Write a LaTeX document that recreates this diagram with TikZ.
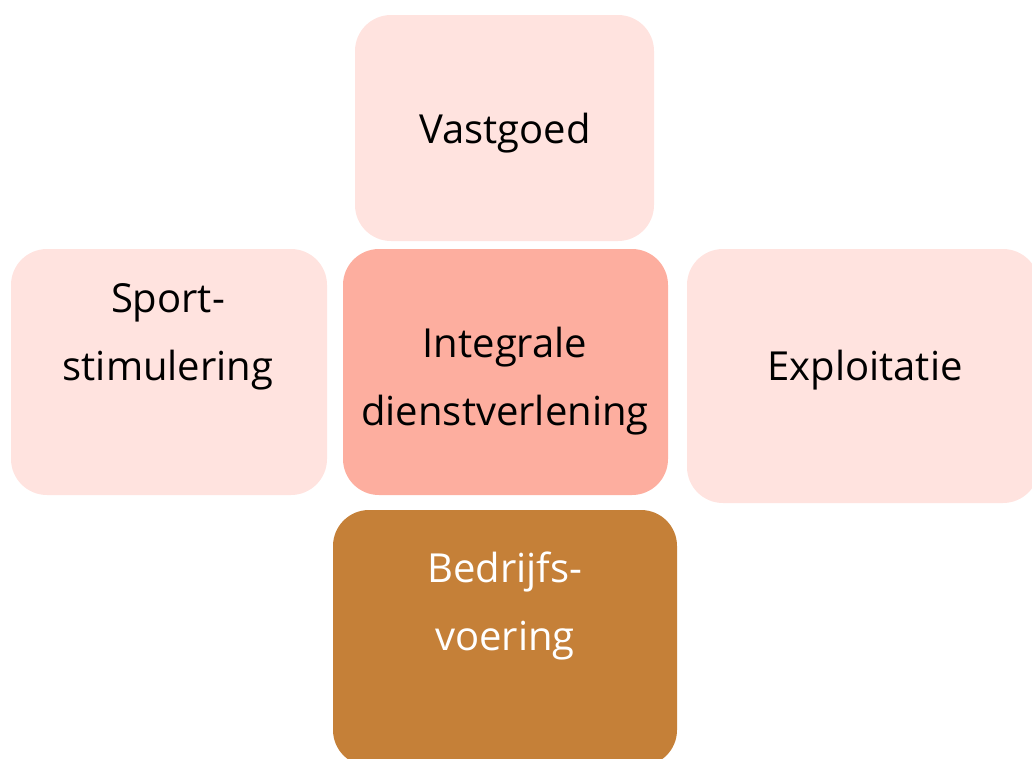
\documentclass[tikz,border=0pt]{standalone}
\usepackage{fontspec}
\setmainfont{Open Sans}
\definecolor{lightpink}{HTML}{FFE3DF}
\definecolor{salmon}{HTML}{FDAE9F}
\definecolor{brown}{HTML}{C58038}
\begin{document}
\begin{tikzpicture}[x=1pt,y=-1pt,
  box/.style={rounded corners=36pt, inner sep=0pt, draw=none},
  lbl/.style={font=\fontsize{40}{68}\selectfont, align=center, anchor=base, inner sep=0pt}]
\useasboundingbox (0,0) rectangle (1032,758);
\node[box, fill=lightpink, minimum width=299pt, minimum height=226pt] (vastgoed) at (504.5,128) {};
\node[box, fill=lightpink, minimum width=316pt, minimum height=246pt] (sport) at (169,372) {};
\node[box, fill=salmon, minimum width=325pt, minimum height=246pt] (integrale) at (505.5,372) {};
\node[box, fill=lightpink, minimum width=352pt, minimum height=254pt] (exploitatie) at (863,376) {};
\node[box, fill=brown, minimum width=344pt, minimum height=256pt] (bedrijf) at (505,638) {};
\node[lbl] (tV) at (505,143) {Vastgoed};
\node[lbl] (tS) at (168,380) {Sport-\\stimulering};
\node[lbl] (tI) at (505,425) {Integrale\\dienstverlening};
\node[lbl] (tE) at (865,380) {Exploitatie};
\node[lbl, text=white] (tB) at (505,650) {Bedrijfs-\\voering};
\end{tikzpicture}
\end{document}
